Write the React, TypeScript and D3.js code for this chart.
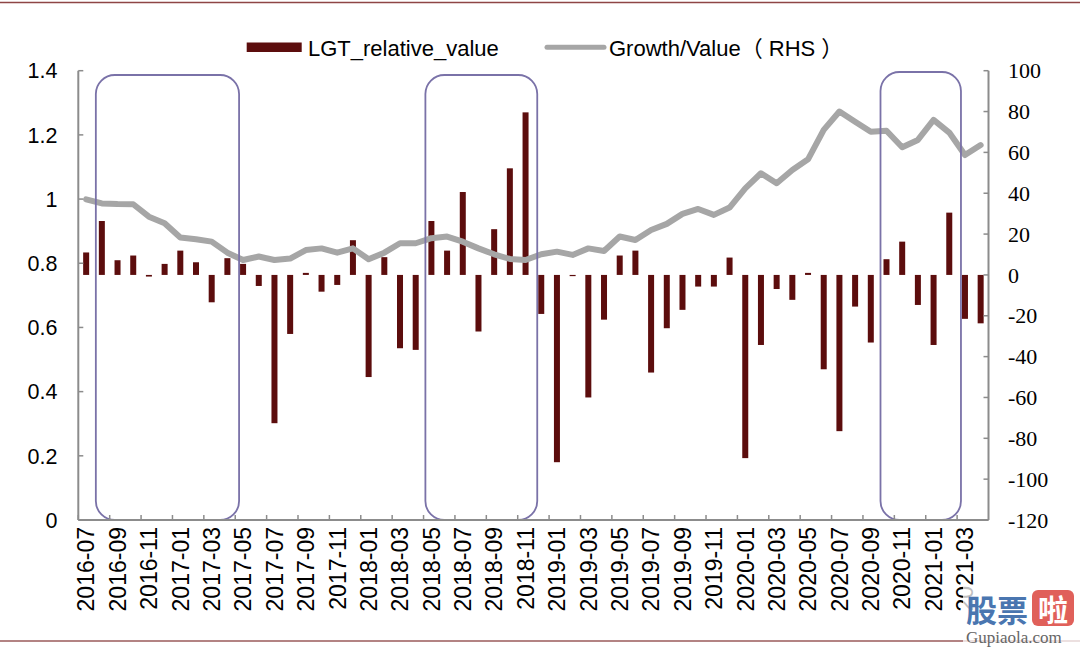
import React from "react";
import * as d3 from "d3";

const months = [
  "2016-07","2016-08","2016-09","2016-10","2016-11","2016-12",
  "2017-01","2017-02","2017-03","2017-04","2017-05","2017-06",
  "2017-07","2017-08","2017-09","2017-10","2017-11","2017-12",
  "2018-01","2018-02","2018-03","2018-04","2018-05","2018-06",
  "2018-07","2018-08","2018-09","2018-10","2018-11","2018-12",
  "2019-01","2019-02","2019-03","2019-04","2019-05","2019-06",
  "2019-07","2019-08","2019-09","2019-10","2019-11","2019-12",
  "2020-01","2020-02","2020-03","2020-04","2020-05","2020-06",
  "2020-07","2020-08","2020-09","2020-10","2020-11","2020-12",
  "2021-01","2021-02","2021-03","2021-04",
];

const lgtRelativeValue = [
  11, 26.4, 7.2, 9.5, -0.8, 5.4, 11.9, 6.2, -13.4, 8.2,
  5.4, -5.4, -72.6, -28.9, 1, -8.2, -4.9, 17, -50, 8.7,
  -35.9, -36.7, 26.4, 11.9, 40.6, -27.7, 22.4, 52.2, 79.6, -19.1,
  -91.7, -0.5, -60, -21.9, 9.5, 11.9, -47.8, -26.1, -17.1, -5.7,
  -5.7, 8.5, -89.7, -34.3, -6.9, -12.2, 1, -46.2, -76.5, -15.5,
  -33.1, 7.7, 16.3, -14.7, -34.3, 30.5, -21.5, -23.7,
];

const growthValue = [
  37, 35, 34.7, 34.6, 28.5, 25.3, 18.3, 17.5, 16.3, 10.9,
  7.3, 9, 7.3, 8, 12.2, 13, 10.9, 13, 7.7, 10.9,
  15.5, 15.5, 18, 18.8, 16.3, 13, 10.1, 7.8, 7.3, 10.1,
  11.4, 9.8, 13, 11.7, 18.8, 17.1, 22, 25, 29.9, 32.3,
  29.4, 33, 42.4, 49.8, 44.9, 51.4, 56.6, 71, 80, 75,
  70.1, 70.6, 62.5, 66.1, 75.9, 69.7, 58.7, 63.6,
];

const leftTicks = [0, 0.2, 0.4, 0.6, 0.8, 1, 1.2, 1.4];
const rightTicks = [-120, -100, -80, -60, -40, -20, 0, 20, 40, 60, 80, 100];
const highlightStart = ["2016-08", "2018-05", "2020-10"];
const highlightEnd = ["2017-05", "2018-12", "2021-03"];
const highlightTop = [75, 75, 72];

const W = 1080;
const H = 647;
const PL = 78.3;
const PR = 988.5;
const PT = 70.7;
const PB = 520;

const BAR = "#5c0d0d";
const LINE = "#a6a6a6";
const AXIS = "#8c8c8c";
const BOX = "#7a72a8";
const SANS = "'Liberation Sans', Arial, Helvetica, 'Noto Sans CJK SC', sans-serif";
const SERIF = "'Liberation Serif', 'Times New Roman', serif";

export default function App() {
  const x = d3.scaleBand<string>().domain(months).range([PL, PR]).padding(0);
  const bw = x.bandwidth();
  const cx = (m: string) => (x(m) as number) + bw / 2;
  const yL = d3.scaleLinear().domain([0, 1.4]).range([PB, PT]);
  const yR = d3.scaleLinear().domain([-120, 100]).range([PB, PT]);

  const line = d3
    .line<number>()
    .x((_, i) => cx(months[i]))
    .y((d) => yR(d))
    .curve(d3.curveLinear);

  const barW = 6;
  const y0 = yR(0);

  return (
    <div style={{ position: "fixed", left: 0, top: 0, width: W, height: H, background: "#fff" }}>
      <svg width={W} height={H} style={{ display: "block" }}>
        <rect width={W} height={H} fill="#fff" />
        {/* frame lines */}
        <line x1={0} x2={W} y1={2.5} y2={2.5} stroke="#8e4646" strokeWidth={1.5} />
        <line x1={0} x2={W} y1={641} y2={641} stroke="#9a5a5a" strokeWidth={1.5} />

        {/* legend */}
        <rect x={246.7} y={42.5} width={55} height={9.5} fill={BAR} />
        <text x={308} y={56} fontFamily={SANS} fontSize={22} fill="#000">LGT_relative_value</text>
        <line x1={547} x2={604} y1={47.3} y2={47.3} stroke={LINE} strokeWidth={5} strokeLinecap="round" />
        <text x={609} y={56} fontFamily={SANS} fontSize={22} fill="#000">Growth/Value（ RHS ）</text>

        {/* bars */}
        {lgtRelativeValue.map((v, i) => (
          <rect
            key={months[i]}
            x={cx(months[i]) - barW / 2}
            y={Math.min(y0, yR(v))}
            width={barW}
            height={Math.max(1.2, Math.abs(yR(v) - y0))}
            fill={BAR}
          />
        ))}

        {/* growth line */}
        <path d={line(growthValue) || ""} fill="none" stroke={LINE} strokeWidth={6} strokeLinejoin="round" strokeLinecap="round" />

        {/* highlight boxes */}
        {highlightStart.map((s, i) => {
          const left = cx(s) - 6;
          const right = cx(highlightEnd[i]) - 4;
          const top = highlightTop[i];
          return (
            <rect
              key={s}
              x={left}
              y={top}
              width={right - left}
              height={PB - top}
              rx={19}
              ry={19}
              fill="none"
              stroke={BOX}
              strokeWidth={1.8}
            />
          );
        })}

        {/* left axis */}
        <line x1={PL} x2={PL} y1={PT} y2={PB} stroke={AXIS} strokeWidth={2} />
        {leftTicks.map((t) => (
          <g key={"l" + t}>
            <line x1={PL} x2={PL + 5} y1={yL(t)} y2={yL(t)} stroke={AXIS} strokeWidth={1.5} />
            <text x={57.5} y={yL(t)} dy="0.36em" textAnchor="end" fontFamily={SANS} fontSize={21.5} fill="#000">
              {String(t)}
            </text>
          </g>
        ))}

        {/* right axis */}
        <line x1={PR} x2={PR} y1={PT} y2={PB} stroke={AXIS} strokeWidth={2} />
        {rightTicks.map((t) => (
          <g key={"r" + t}>
            <line x1={PR - 5} x2={PR} y1={yR(t)} y2={yR(t)} stroke={AXIS} strokeWidth={1.5} />
            <text x={1008} y={yR(t)} dy="0.35em" textAnchor="start" fontFamily={SERIF} fontSize={22} fill="#000">
              {String(t)}
            </text>
          </g>
        ))}

        {/* bottom axis */}
        <line x1={PL} x2={PR} y1={PB} y2={PB} stroke={AXIS} strokeWidth={2} />
        {months.map((m, i) =>
          i % 2 === 0 ? (
            <line key={"t" + m} x1={x(m) as number} x2={x(m) as number} y1={PB} y2={PB - 5} stroke={AXIS} strokeWidth={1.5} />
          ) : null
        )}
        {months.map((m, i) =>
          i % 2 === 0 ? (
            <text
              key={"x" + m}
              transform={`translate(${cx(m)},${PB + 7}) rotate(-90)`}
              dy="0.36em"
              textAnchor="end"
              fontFamily={SANS}
              fontSize={23}
              fill="#000"
            >
              {m}
            </text>
          ) : null
        )}

        {/* watermark */}
        <rect x={963} y={586} width={117} height={61} fill="#fff" opacity={0.75} />
        <text x={966} y={622} fontFamily="'Noto Sans CJK SC', sans-serif" fontSize={31} fontWeight={700} fill="#4a76b0">股票</text>
        <rect x={1032} y={590} width={42} height={36} rx={6} fill="#e0605a" />
        <text x={1053} y={621} textAnchor="middle" fontFamily="'Noto Sans CJK SC', sans-serif" fontSize={30} fontWeight={700} fill="#fff">啦</text>
        <text x={966} y={643} fontFamily={SERIF} fontSize={17} fill="#666">Gupiaola.com</text>
      </svg>
    </div>
  );
}
